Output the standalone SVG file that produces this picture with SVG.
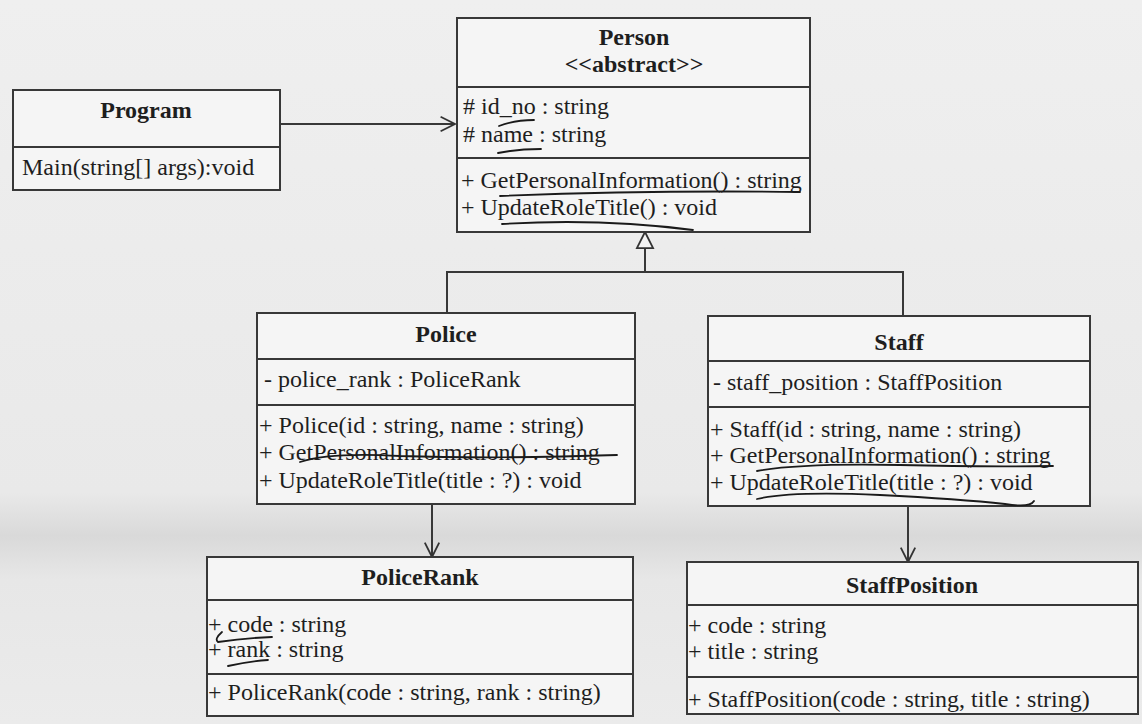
<svg xmlns="http://www.w3.org/2000/svg" width="1142" height="724" viewBox="0 0 1142 724">
<defs>
<linearGradient id="bg" x1="0" y1="0" x2="0" y2="1">
<stop offset="0" stop-color="#efefef"/>
<stop offset="0.68" stop-color="#e9e9e9"/>
<stop offset="0.74" stop-color="#d9d9d9"/>
<stop offset="0.80" stop-color="#e7e7e7"/>
<stop offset="1" stop-color="#ebebeb"/>
</linearGradient>
<marker id="open" viewBox="0 0 20 20" refX="18" refY="10" markerWidth="18" markerHeight="18" markerUnits="userSpaceOnUse" orient="auto">
<path d="M2,2 L18,10 L2,18" fill="none" stroke="#333" stroke-width="2"/>
</marker>
<marker id="tri" viewBox="0 0 20 20" refX="19" refY="10" markerWidth="18" markerHeight="20" markerUnits="userSpaceOnUse" orient="auto">
<path d="M1,1 L19,10 L1,19 Z" fill="#f4f4f4" stroke="#333" stroke-width="2"/>
</marker>
</defs>
<style>
.box{fill:#f5f5f5;stroke:#383838;stroke-width:2}
.div{stroke:#383838;stroke-width:2}
.t{font-family:"Liberation Serif","Times New Roman",serif;font-size:24px;fill:#1e1e1e}
.b{font-weight:bold;text-anchor:middle}
.con{fill:none;stroke:#383838;stroke-width:2}
.ink{fill:none;stroke:#1a1a1a;stroke-width:1.8;stroke-linecap:round}
</style>
<rect width="1142" height="724" fill="url(#bg)"/>

<g id="connectors">
<path class="con" d="M280,124 L455,124" marker-end="url(#open)"/>
<path class="con" d="M447,313 L447,272 L903,272 L903,316"/>
<path class="con" d="M645,272 L645,232" marker-end="url(#tri)"/>
<path class="con" d="M432,504 L432,557" marker-end="url(#open)"/>
<path class="con" d="M908,506 L908,562" marker-end="url(#open)"/>
</g>

<g id="program">
<rect class="box" x="13" y="90" width="267" height="100"/>
<line class="div" x1="13" y1="147" x2="280" y2="147"/>
<text class="t b" x="146" y="118">Program</text>
<text class="t" x="22" y="175">Main(string[] args):void</text>
</g>

<g id="person">
<rect class="box" x="457" y="18" width="353" height="214"/>
<line class="div" x1="457" y1="87" x2="810" y2="87"/>
<line class="div" x1="457" y1="158" x2="810" y2="158"/>
<text class="t b" x="634" y="45">Person</text>
<text class="t b" x="634" y="72">&lt;&lt;abstract&gt;&gt;</text>
<text class="t" x="463" y="114"># id_no : string</text>
<text class="t" x="463" y="142"># name : string</text>
<text class="t" x="461" y="188">+ GetPersonalInformation() : string</text>
<text class="t" x="461" y="215">+ UpdateRoleTitle() : void</text>
</g>

<g id="police">
<rect class="box" x="257" y="313" width="378" height="191"/>
<line class="div" x1="257" y1="359" x2="635" y2="359"/>
<line class="div" x1="257" y1="405" x2="635" y2="405"/>
<text class="t b" x="446" y="342">Police</text>
<text class="t" x="264" y="387">- police_rank : PoliceRank</text>
<text class="t" x="259" y="433">+ Police(id : string, name : string)</text>
<text class="t" x="259" y="460">+ GetPersonalInformation() : string</text>
<text class="t" x="259" y="488">+ UpdateRoleTitle(title : ?) : void</text>
</g>

<g id="staff">
<rect class="box" x="708" y="316" width="382" height="190"/>
<line class="div" x1="708" y1="361" x2="1090" y2="361"/>
<line class="div" x1="708" y1="407" x2="1090" y2="407"/>
<text class="t b" x="899" y="350">Staff</text>
<text class="t" x="713" y="390">- staff_position : StaffPosition</text>
<text class="t" x="710" y="437">+ Staff(id : string, name : string)</text>
<text class="t" x="710" y="463">+ GetPersonalInformation() : string</text>
<text class="t" x="710" y="490">+ UpdateRoleTitle(title : ?) : void</text>
</g>

<g id="policerank">
<rect class="box" x="207" y="557" width="426" height="159"/>
<line class="div" x1="207" y1="600" x2="633" y2="600"/>
<line class="div" x1="207" y1="674" x2="633" y2="674"/>
<text class="t b" x="420" y="585">PoliceRank</text>
<text class="t" x="208" y="632">+ code : string</text>
<text class="t" x="208" y="657">+ rank : string</text>
<text class="t" x="208" y="700">+ PoliceRank(code : string, rank : string)</text>
</g>

<g id="staffposition">
<rect class="box" x="687" y="562" width="451" height="152"/>
<line class="div" x1="687" y1="605" x2="1138" y2="605"/>
<line class="div" x1="687" y1="677" x2="1138" y2="677"/>
<text class="t b" x="912" y="593">StaffPosition</text>
<text class="t" x="688" y="633">+ code : string</text>
<text class="t" x="688" y="659">+ title : string</text>
<text class="t" x="688" y="707">+ StaffPosition(code : string, title : string)</text>
</g>

<g id="handwriting">
<path class="ink" d="M499,126 Q515,120 534,120"/>
<path class="ink" d="M498,153 Q518,149 541,149"/>
<path class="ink" d="M500,196 Q650,190 800,192"/>
<path class="ink" d="M502,224 Q600,218 693,230"/>
<path class="ink" d="M300,462 Q330,452 400,456 Q500,459 617,455"/>
<path class="ink" d="M757,471 Q800,463 900,465 Q980,467 1053,466"/>
<path class="ink" d="M757,499 Q790,491 880,495 Q960,499 1005,504 Q1030,508 1034,501"/>
<path class="ink" d="M222,632 Q214,639 218,642 Q245,638 272,637"/>
<path class="ink" d="M228,666 Q250,661 268,660"/>
</g>
</svg>
